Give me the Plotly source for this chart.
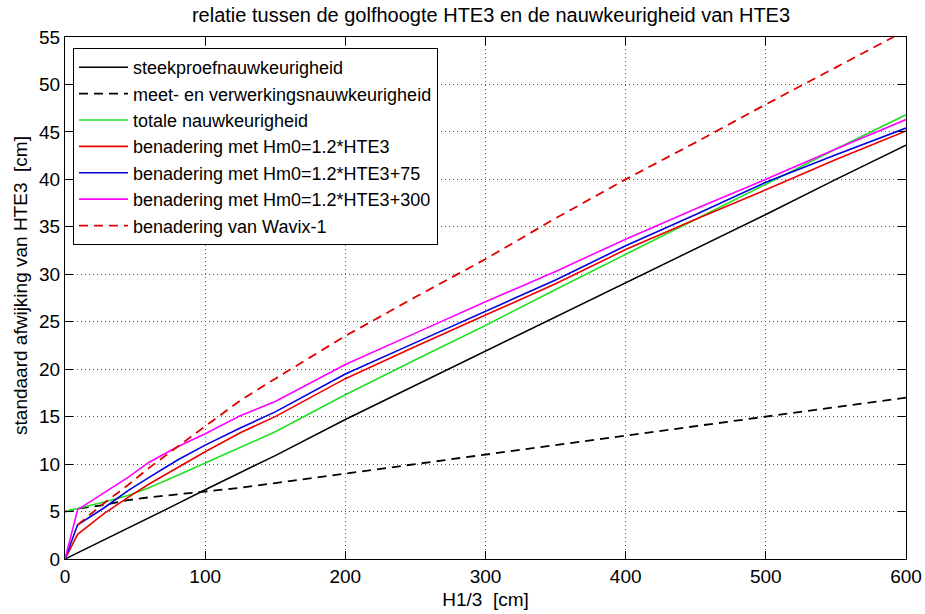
import plotly.graph_objects as go

x_vals = [0, 9, 28, 45, 60, 80, 100, 125, 150, 200, 250, 300, 350, 400, 450, 500, 550, 600]
steekproef = [0, 0.65, 2.0, 3.2, 4.3, 5.8, 7.3, 9.1, 10.9, 14.7, 18.3, 21.9, 25.5, 29.1, 32.7, 36.3, 40.0, 43.6]
meet = [5.0, 5.3, 5.7, 6.2, 6.5, 6.8, 7.1, 7.5, 8.0, 9.0, 10.0, 11.0, 12.0, 13.0, 14.0, 15.0, 16.0, 17.0]
totaal = [5.0, 5.3, 6.0, 6.7, 7.5, 8.8, 10.1, 11.8, 13.4, 17.3, 21.0, 24.6, 28.4, 32.1, 35.8, 39.5, 43.2, 46.8]
ben_0 = [0, 2.6, 4.8, 6.5, 7.9, 9.6, 11.3, 13.3, 15.0, 19.0, 22.4, 25.7, 29.0, 32.6, 35.8, 38.9, 42.1, 45.1]
ben_75 = [0, 3.6, 5.4, 7.2, 8.6, 10.4, 12.0, 13.8, 15.5, 19.5, 22.8, 26.1, 29.4, 33.0, 36.3, 39.7, 42.6, 45.4]
ben_300 = [0, 5.2, 7.0, 8.6, 10.2, 11.8, 13.2, 15.1, 16.6, 20.5, 23.8, 27.1, 30.3, 33.7, 36.9, 40.0, 43.2, 46.3]
wavix_x = [9, 28, 45, 60, 80, 100, 125, 150, 200, 250, 300, 350, 400, 450, 500, 550, 600]
wavix_y = [3.6, 5.9, 7.8, 9.6, 11.8, 14.0, 16.7, 19.0, 23.5, 27.6, 31.6, 35.9, 40.0, 43.9, 47.9, 51.8, 55.7]

names = [
    "steekproefnauwkeurigheid",
    "meet- en verwerkingsnauwkeurigheid",
    "totale nauwkeurigheid",
    "benadering met Hm0=1.2*HTE3",
    "benadering met Hm0=1.2*HTE3+75",
    "benadering met Hm0=1.2*HTE3+300",
    "benadering van Wavix-1",
]
x_tick_vals = [0, 100, 200, 300, 400, 500, 600]
y_tick_vals = [0, 5, 10, 15, 20, 25, 30, 35, 40, 45, 50, 55]
title_text = "relatie tussen de golfhoogte HTE3 en de nauwkeurigheid van HTE3"
x_title = "H1/3\u00a0 [cm]"
y_title = "standaard afwijking van HTE3\u00a0 [cm]"

series = [
    (x_vals, steekproef, "#000000", "solid", 1.5),
    (x_vals, meet, "#000000", "9px,6px", 1.8),
    (x_vals, totaal, "#22e022", "solid", 1.6),
    (x_vals, ben_0, "#ee0000", "solid", 1.6),
    (x_vals, ben_75, "#0000e0", "solid", 1.6),
    (x_vals, ben_300, "#ff00ff", "solid", 1.6),
    (wavix_x, wavix_y, "#e00000", "9px,6px", 1.8),
]

fig = go.Figure()
for (xs, ys, col, dash, w), nm in zip(series, names):
    fig.add_trace(go.Scatter(x=xs, y=ys, mode="lines", name=nm,
                             line=dict(color=col, dash=dash, width=w)))

font_main = "Liberation Sans, Arial, sans-serif"
axis_common = dict(
    showline=True, linecolor="black", linewidth=1, mirror="ticks",
    ticks="inside", ticklen=8, tickcolor="black",
    showgrid=True, gridcolor="#555555", griddash="1px,3px", gridwidth=1,
    zeroline=False, automargin=False,
    tickfont=dict(size=19, color="black", family=font_main),
)

fig.update_layout(
    width=925, height=614,
    margin=dict(l=65, r=19, t=37, b=55),
    paper_bgcolor="white", plot_bgcolor="white",
    font=dict(family=font_main, color="black", size=19),
    title=dict(text=title_text,
               x=491 / 925, xanchor="center", y=1 - 15 / 614, yanchor="middle",
               font=dict(size=20, color="black")),
    xaxis=dict(range=[0, 600], tickvals=x_tick_vals,
               title=dict(text=x_title, font=dict(size=19), standoff=6),
               **axis_common),
    yaxis=dict(range=[0, 55], tickvals=y_tick_vals, **axis_common),
    legend=dict(x=0.0095, y=0.979, xanchor="left", yanchor="top",
                bgcolor="white", bordercolor="black", borderwidth=1,
                font=dict(size=18, color="black"), itemwidth=49,
                tracegroupgap=0),
    showlegend=True,
)

fig.add_annotation(text=y_title, textangle=-90, xref="paper", yref="paper",
                   x=(20 - 65) / 840, y=(559 - 285) / 522,
                   xanchor="center", yanchor="middle", showarrow=False,
                   font=dict(size=19, color="black", family=font_main))

fig.write_html("out.html")
